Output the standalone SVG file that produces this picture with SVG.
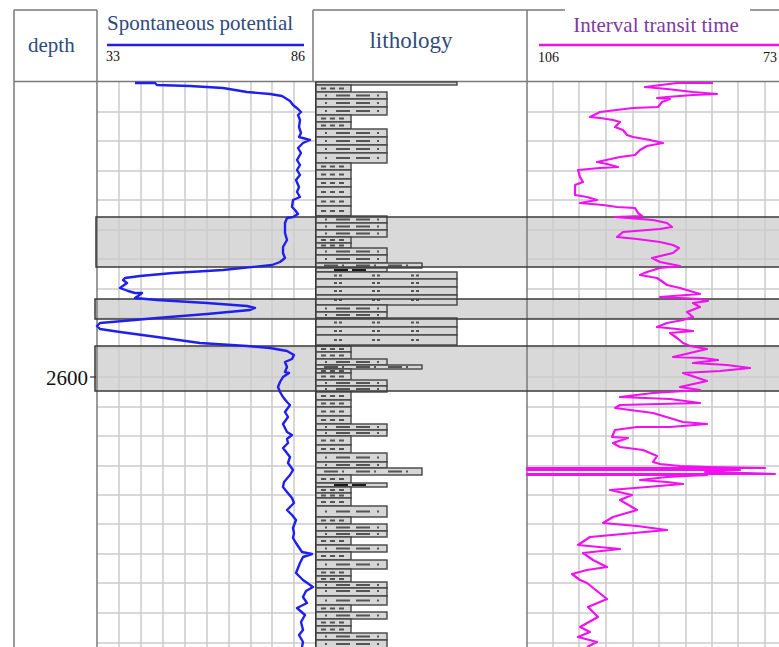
<svg xmlns="http://www.w3.org/2000/svg" xmlns:xlink="http://www.w3.org/1999/xlink" width="779" height="647" viewBox="0 0 779 647">
<style>
.grid{stroke:#cccccc;stroke-width:1.5;fill:none}
.col{stroke:#7a7a7a;stroke-width:1.5;fill:none}
.band{fill:#d9d9d9}
.bandb{stroke:#3a3a3a;stroke-width:1.5;fill:none}
.L{fill:#d6d6d6;stroke:#444;stroke-width:1.4}
.pat{stroke:#555;stroke-width:1.8;fill:none}
.dark{stroke:#1a1a1a;stroke-width:2;fill:none}
.title{font-family:"Liberation Serif","Times New Roman",serif;font-size:21px;fill:#2f4b7c}
.scale{font-family:"Liberation Serif","Times New Roman",serif;font-size:14px;fill:#111}
.sp{stroke:#1f1fef;stroke-width:2.4;fill:none;stroke-linejoin:round}
.itt{stroke:#f010f0;stroke-width:2.2;fill:none;stroke-linejoin:round}
</style>
<defs>
<path id="psh" class="pat" d="M5,0h5M14,0h5M23,0h5"/>
<path id="psi" class="pat" d="M20,0h14M40,0h14M9,0h2M61,0h2"/>
<path id="psa" class="pat" d="M18,0h3M23,0h3M56,0h3M61,0h3M95,0h3M100,0h3"/>
<path id="plo" class="pat" d="M8,0h14M26,0h2M40,0h14M58,0h2M72,0h14M90,0h2"/>
</defs>
<rect width="779" height="647" fill="#fff"/>
<g id="bands-fill">
<rect class="band" x="96" y="217" width="683" height="50"/>
<rect class="band" x="95" y="299" width="684" height="20"/>
<rect class="band" x="95" y="346" width="684" height="45"/>
</g>
<g id="grid">
<path class="grid" d="M119,82V647M141,82V647M163,82V647M185,82V647M207,82V647M229,82V647M251,82V647M272,82V647M294,82V647"/>
<path class="grid" d="M553,82V647M579,82V647M606,82V647M633,82V647M659,82V647M686,82V647M712,82V647M738,82V647M765,82V647"/>
<path class="grid" d="M97,112H316M97,141H316M97,171H316M97,200H316M97,230H316M97,259H316M97,289H316M97,318H316M97,348H316M97,377H316M97,407H316M97,436H316M97,466H316M97,495H316M97,524H316M97,554H316M97,583H316M97,613H316M97,643H316"/>
<path class="grid" d="M527,112H779M527,141H779M527,171H779M527,200H779M527,230H779M527,259H779M527,289H779M527,318H779M527,348H779M527,377H779M527,407H779M527,436H779M527,466H779M527,495H779M527,524H779M527,554H779M527,583H779M527,613H779M527,643H779"/>
</g>
<g id="frame">
<path class="col" d="M14,10H97M313,10H565M750,10H779"/>
<path class="col" d="M14,10V647M97,10V647M313,10V82M527,10V647"/>
<path class="col" d="M14,81.5H779"/>
</g>
<g id="lithology">
<path class="dark" d="M316,82V647"/>
<rect class="L" x="316" y="82" width="141" height="3"/>
<rect class="L" x="316" y="85" width="35" height="7"/><use href="#psh" x="316" y="88.5"/>
<rect class="L" x="316" y="92" width="71" height="7"/><use href="#psi" x="316" y="95.5"/>
<rect class="L" x="316" y="99" width="71" height="8"/><use href="#psi" x="316" y="103"/>
<rect class="L" x="316" y="107" width="71" height="8"/><use href="#psi" x="316" y="111"/>
<rect class="L" x="316" y="115" width="35" height="7"/><use href="#psh" x="316" y="118.5"/>
<rect class="L" x="316" y="122" width="35" height="7"/><use href="#psh" x="316" y="125.5"/>
<rect class="L" x="316" y="129" width="71" height="8"/><use href="#psi" x="316" y="133"/>
<rect class="L" x="316" y="137" width="71" height="8"/><use href="#psi" x="316" y="141"/>
<rect class="L" x="316" y="145" width="71" height="8"/><use href="#psi" x="316" y="149"/>
<rect class="L" x="316" y="153" width="71" height="10"/><use href="#psi" x="316" y="158"/>
<rect class="L" x="316" y="163" width="35" height="7"/><use href="#psh" x="316" y="166.5"/>
<rect class="L" x="316" y="170" width="35" height="9"/><use href="#psh" x="316" y="174.5"/>
<rect class="L" x="316" y="179" width="35" height="8"/><use href="#psh" x="316" y="183"/>
<rect class="L" x="316" y="187" width="35" height="10"/><use href="#psh" x="316" y="192"/>
<rect class="L" x="316" y="197" width="35" height="9"/><use href="#psh" x="316" y="201.5"/>
<rect class="L" x="316" y="206" width="35" height="10"/><use href="#psh" x="316" y="211"/>
<rect class="L" x="316" y="216" width="71" height="7"/><use href="#psi" x="316" y="219.5"/>
<rect class="L" x="316" y="223" width="71" height="7"/><use href="#psi" x="316" y="226.5"/>
<rect class="L" x="316" y="230" width="71" height="7"/><use href="#psi" x="316" y="233.5"/>
<rect class="L" x="316" y="237" width="35" height="6"/><use href="#psh" x="316" y="240"/>
<rect class="L" x="316" y="243" width="35" height="5"/><use href="#psh" x="316" y="245.5"/>
<rect class="L" x="316" y="248" width="71" height="7"/><use href="#psi" x="316" y="251.5"/>
<rect class="L" x="316" y="255" width="71" height="8"/><use href="#psi" x="316" y="259"/>
<rect class="L" x="316" y="263" width="106" height="5"/><use href="#plo" x="316" y="265.5"/>
<rect class="L" x="316" y="268" width="71" height="4"/><path class="dark" d="M334,270h14M352,270h14"/>
<rect class="L" x="316" y="272" width="141" height="7"/><use href="#psa" x="316" y="275.5"/>
<rect class="L" x="316" y="279" width="141" height="8"/><use href="#psa" x="316" y="283"/>
<rect class="L" x="316" y="287" width="141" height="8"/><use href="#psa" x="316" y="291"/>
<rect class="L" x="316" y="295" width="141" height="10"/><use href="#psa" x="316" y="300"/>
<rect class="L" x="316" y="305" width="71" height="7"/><use href="#psi" x="316" y="308.5"/>
<rect class="L" x="316" y="312" width="71" height="6"/><use href="#psi" x="316" y="315"/>
<rect class="L" x="316" y="318" width="141" height="9"/><use href="#psa" x="316" y="322.5"/>
<rect class="L" x="316" y="327" width="141" height="8"/><use href="#psa" x="316" y="331"/>
<rect class="L" x="316" y="335" width="141" height="10"/><use href="#psa" x="316" y="340"/>
<rect class="L" x="316" y="346" width="35" height="6"/><use href="#psh" x="316" y="349"/>
<rect class="L" x="316" y="352" width="35" height="7"/><use href="#psh" x="316" y="355.5"/>
<rect class="L" x="316" y="359" width="71" height="6"/><use href="#psi" x="316" y="362"/>
<rect class="L" x="316" y="365" width="106" height="4"/><use href="#plo" x="316" y="367"/>
<rect class="L" x="316" y="369" width="35" height="4"/><use href="#psh" x="316" y="371"/>
<rect class="L" x="316" y="373" width="35" height="7"/><use href="#psh" x="316" y="376.5"/>
<rect class="L" x="316" y="380" width="71" height="6"/><use href="#psi" x="316" y="383"/>
<rect class="L" x="316" y="386" width="71" height="6"/><use href="#psi" x="316" y="389"/>
<rect class="L" x="316" y="392" width="35" height="8"/><use href="#psh" x="316" y="396"/>
<rect class="L" x="316" y="400" width="35" height="7"/><use href="#psh" x="316" y="403.5"/>
<rect class="L" x="316" y="407" width="35" height="9"/><use href="#psh" x="316" y="411.5"/>
<rect class="L" x="316" y="416" width="35" height="8"/><use href="#psh" x="316" y="420"/>
<rect class="L" x="316" y="424" width="71" height="6"/><use href="#psi" x="316" y="427"/>
<rect class="L" x="316" y="430" width="71" height="6"/><use href="#psi" x="316" y="433"/>
<rect class="L" x="316" y="436" width="35" height="9"/><use href="#psh" x="316" y="440.5"/>
<rect class="L" x="316" y="445" width="35" height="8"/><use href="#psh" x="316" y="449"/>
<rect class="L" x="316" y="453" width="71" height="9"/><use href="#psi" x="316" y="457.5"/>
<rect class="L" x="316" y="462" width="71" height="6"/><use href="#psi" x="316" y="465"/>
<rect class="L" x="316" y="468" width="106" height="7"/><use href="#plo" x="316" y="471.5"/>
<rect class="L" x="316" y="475" width="35" height="8"/><use href="#psh" x="316" y="479"/>
<rect class="L" x="316" y="483" width="71" height="4"/><path class="dark" d="M334,485h14M352,485h14"/>
<rect class="L" x="316" y="487" width="35" height="6"/><use href="#psh" x="316" y="490"/>
<rect class="L" x="316" y="493" width="35" height="5"/><use href="#psh" x="316" y="495.5"/>
<rect class="L" x="316" y="498" width="35" height="8"/><use href="#psh" x="316" y="502"/>
<rect class="L" x="316" y="506" width="71" height="11"/><use href="#psi" x="316" y="511.5"/>
<rect class="L" x="316" y="517" width="35" height="7"/><use href="#psh" x="316" y="520.5"/>
<rect class="L" x="316" y="524" width="71" height="7"/><use href="#psi" x="316" y="527.5"/>
<rect class="L" x="316" y="531" width="71" height="6"/><use href="#psi" x="316" y="534"/>
<rect class="L" x="316" y="537" width="35" height="8"/><use href="#psh" x="316" y="541"/>
<rect class="L" x="316" y="545" width="71" height="7"/><use href="#psi" x="316" y="548.5"/>
<rect class="L" x="316" y="552" width="35" height="8"/><use href="#psh" x="316" y="556"/>
<rect class="L" x="316" y="560" width="71" height="9"/><use href="#psi" x="316" y="564.5"/>
<rect class="L" x="316" y="569" width="35" height="7"/><use href="#psh" x="316" y="572.5"/>
<rect class="L" x="316" y="576" width="35" height="6"/><use href="#psh" x="316" y="579"/>
<rect class="L" x="316" y="582" width="71" height="6"/><use href="#psi" x="316" y="585"/>
<rect class="L" x="316" y="588" width="71" height="8"/><use href="#psi" x="316" y="591"/>
<rect class="L" x="316" y="596" width="71" height="9"/><use href="#psi" x="316" y="600.5"/>
<rect class="L" x="316" y="605" width="35" height="7"/><use href="#psh" x="316" y="608.5"/>
<rect class="L" x="316" y="612" width="71" height="7"/><use href="#psi" x="316" y="615.5"/>
<rect class="L" x="316" y="619" width="35" height="7"/><use href="#psh" x="316" y="622.5"/>
<rect class="L" x="316" y="626" width="35" height="7"/><use href="#psh" x="316" y="629.5"/>
<rect class="L" x="316" y="633" width="71" height="7"/><use href="#psi" x="316" y="636.5"/>
<rect class="L" x="316" y="640" width="71" height="8"/><use href="#psi" x="316" y="644"/>
</g>
<g id="bands-border">
<rect class="bandb" x="96" y="217" width="690" height="50"/>
<rect class="bandb" x="95" y="299" width="690" height="20"/>
<rect class="bandb" x="95" y="346" width="690" height="45"/>
</g>
<g id="curves">
<polyline class="sp" points="135,83 155,83 157,85 190,86 223,88 247,92 270,94 282,96 290,101 293,105 298,109 301,112 298,115 300,120 299,127 301,133 299,137 310,140 303,143 298,148 301,153 297,160 300,165 297,170 300,175 296,180 299,187 297,192 300,197 293,200 292,207 295,210 298,214 293,217 287,218 285,223 285,233 287,240 283,247 283,253 285,258 280,262 272,265 223,270 173,273 140,276 125,278 123,280 127,283 120,288 128,291 135,293 142,293 138,296 135,298 157,300 207,303 247,306 255,308 250,310 207,314 157,318 123,321 100,323 97,326 100,329 120,332 157,337 200,343 247,346 270,348 287,351 294,355 292,359 285,362 287,367 285,372 289,373 283,377 280,382 278,387 280,392 283,397 287,402 290,405 285,412 288,417 283,424 287,432 292,435 287,439 288,443 283,448 290,457 288,463 293,470 290,475 284,482 283,487 287,492 292,498 294,503 287,510 292,515 296,520 293,528 294,533 293,538 296,543 302,552 312,554 303,557 300,563 296,573 303,580 313,587 306,591 303,597 307,603 297,608 305,615 301,622 303,630 299,635 303,642 302,647"/>
<polyline class="itt" points="713,83 677,83 645,87 667,89 693,92 717,94 693,95 667,97 657,98 670,99 662,102 658,107 633,108 600,112 590,117 600,118 613,120 620,122 615,127 623,130 627,135 633,137 650,140 663,143 647,146 640,150 635,155 620,157 597,162 607,164 618,167 600,168 578,170 580,177 583,182 575,185 575,195 587,197 597,200 580,203 603,205 617,207 635,208 638,213 642,216 615,217 653,220 667,223 672,227 660,229 623,232 617,237 637,239 660,242 673,245 679,248 673,253 652,258 660,262 680,266 660,268 647,272 640,275 657,278 663,282 667,285 680,288 700,294 660,297 700,299 708,301 693,303 700,307 687,312 693,317 683,320 667,323 657,327 677,329 693,331 670,333 677,338 683,343 690,346 707,349 673,357 703,358 718,360 693,363 727,365 750,368 720,371 683,373 707,381 680,387 700,390 653,393 620,397 670,399 700,403 620,405 615,408 653,413 683,422 707,424 670,427 637,427 615,430 612,437 628,438 613,443 620,447 643,450 657,456 653,462 660,464 680,466 707,467 765,468 527,468 527,470 740,470 705,472 775,474 527,474 527,475 707,475 667,477 640,480 667,482 683,484 647,487 610,490 632,495 620,500 637,510 613,517 603,523 637,526 667,530 590,537 578,545 620,549 583,553 593,560 607,567 587,570 572,574 580,580 587,583 607,599 588,607 598,617 580,627 590,632 578,637 597,642 587,647"/>
</g>
<g id="header">
<text class="title" x="28" y="52">depth</text>
<text class="title" x="107" y="30">Spontaneous potential</text>
<path d="M107,45H304" stroke="#1f1fef" stroke-width="2.5"/>
<text class="scale" x="106" y="61">33</text>
<text class="scale" x="305" y="61" text-anchor="end">86</text>
<text class="title" x="411" y="48" text-anchor="middle" style="font-size:23px">lithology</text>
<text class="title" x="656" y="32" text-anchor="middle" style="fill:#7e3a9e">Interval transit time</text>
<path d="M539,45H779" stroke="#f010f0" stroke-width="2.5"/>
<text class="scale" x="538" y="62">106</text>
<text class="scale" x="763" y="62">73</text>
</g>
<g id="depth-mark">
<text x="88" y="385" text-anchor="end" style="font-family:'Liberation Serif','Times New Roman',serif;font-size:21px;fill:#111">2600</text>
<path d="M90,377H96" stroke="#333" stroke-width="1.2"/>
</g>
</svg>
